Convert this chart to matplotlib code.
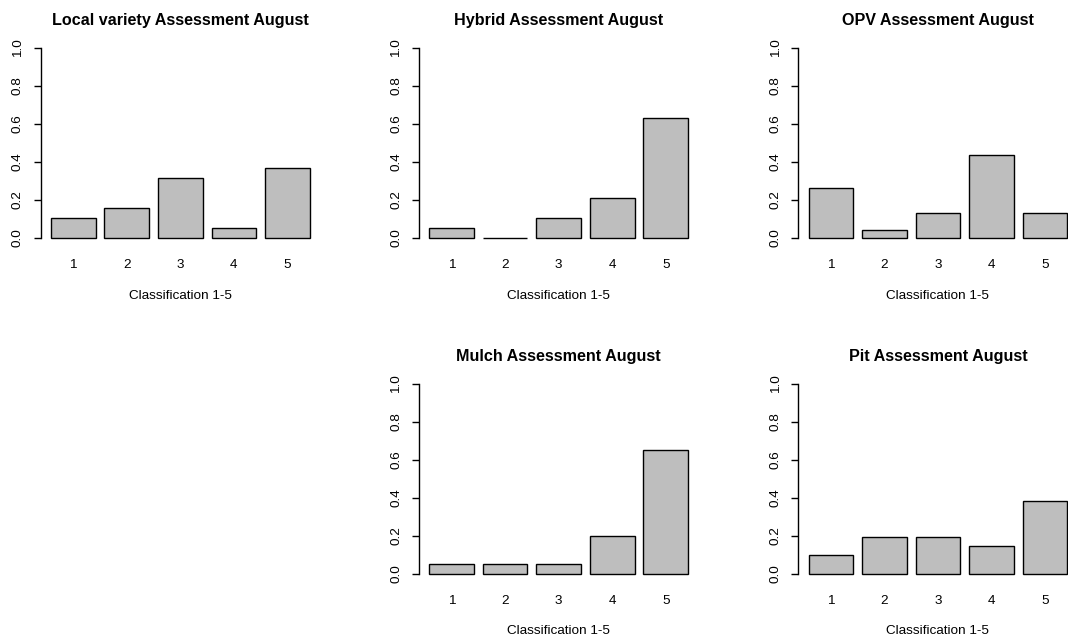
import numpy as np
import matplotlib.pyplot as plt

plt.rcParams['font.family'] = ['Liberation Sans', 'DejaVu Sans']

# Classification categories
categories = ['1', '2', '3', '4', '5']

# Share of plots in each class
local_variety = [0.105, 0.158, 0.316, 0.053, 0.368]
hybrid = [0.053, 0.0, 0.105, 0.211, 0.632]
opv = [0.261, 0.043, 0.130, 0.435, 0.130]
mulch = [0.05, 0.05, 0.05, 0.20, 0.65]
pit = [0.095, 0.190, 0.190, 0.143, 0.381]

titles = ['Local variety Assessment August', 'Hybrid Assessment August',
          'OPV Assessment August', 'Mulch Assessment August',
          'Pit Assessment August']
series = [local_variety, hybrid, opv, mulch, pit]

W, H = 1068, 641
fig = plt.figure(figsize=(W / 100, H / 100), dpi=100)

# panel plot regions in pixels: (left, top)
pw, ph = 279.4, 205.2
boxes = [(40.6, 40.4), (419.0, 40.4), (798.3, 40.4),
         (419.0, 375.9), (798.3, 375.9)]

# R barplot style positions: width 1, space 0.2
xpos = 0.7 + 1.2 * np.arange(len(categories))

for (left, top), title, vals in zip(boxes, titles, series):
    ax = fig.add_axes([left / W, (H - top - ph) / H, pw / W, ph / H])
    ax.bar(xpos, vals, width=1.0, color='#BEBEBE', edgecolor='black', linewidth=1.0)
    ax.set_xlim(-0.032, 6.232)
    ax.set_ylim(-0.04, 1.04)
    for s in ['top', 'right', 'bottom']:
        ax.spines[s].set_visible(False)
    ax.spines['left'].set_bounds(0, 1)
    ax.spines['left'].set_linewidth(1.0)
    ax.set_yticks([0.0, 0.2, 0.4, 0.6, 0.8, 1.0])
    ax.set_yticklabels(['0.0', '0.2', '0.4', '0.6', '0.8', '1.0'],
                       rotation=90, va='center')
    ax.tick_params(axis='y', length=5, width=1.0, pad=7, labelsize=9.7)
    ax.set_xticks(xpos)
    ax.set_xticklabels(categories)
    ax.tick_params(axis='x', length=0, pad=10, labelsize=9.7)
    ax.set_xlabel('Classification 1-5', fontsize=9.7, labelpad=13)
    ax.set_title(title, fontsize=11.6, fontweight='bold', pad=11)

fig.savefig('out.png', dpi=100)
